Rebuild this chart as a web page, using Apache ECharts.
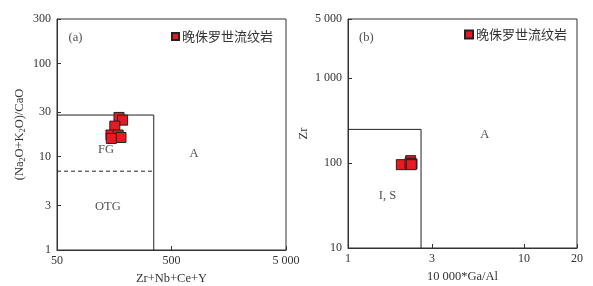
<!DOCTYPE html>
<html>
<head>
<meta charset="utf-8">
<script src="https://cdn.jsdelivr.net/npm/echarts@6/dist/echarts.min.js"></script>
<style>
html,body{margin:0;padding:0;background:#fff;}
#c{width:593px;height:286px;}
</style>
</head>
<body>
<div id="c"></div>
<script>
// ---- data ----
const seriesName = '晚侏罗世流纹岩';
// (a) Zr+Nb+Ce+Y vs (Na2O+K2O)/CaO
const aX = [174, 187, 160, 148, 171, 181, 149];
const aY = [26.4, 24.7, 21.3, 17.1, 17.1, 16.1, 15.7];
// (b) 10000*Ga/Al vs Zr
const bX = [2.27, 2.01, 2.25, 2.31, 2.29];
const bY = [107, 96, 100, 98, 96];
// tick labels
const aXTicks = [50, 500, 5000];
const aYTicks = [1, 3, 10, 30, 100, 300];
const bXTicks = [1, 3, 10, 20];
const bYTicks = [10, 100, 1000, 5000];
// field boundaries
const aBox = [[50, 28], [350, 28], [350, 1]];
const aDash = [[50, 7], [350, 7]];
const bBox = [[1, 250], [2.6, 250], [2.6, 10]];
// field labels [x, y, text]
const aLabels = [[72.5, 187, '(a)'], [134, 11.8, 'FG'], [786, 10.7, 'A'], [139, 2.91, 'OTG']];
const bLabels = [[1.27, 3020, '(b)'], [5.98, 216, 'A'], [1.675, 41.6, 'I, S']];

const serif = '"Liberation Serif", "Times New Roman", serif';
const cjk = '"Noto Sans CJK SC", sans-serif';
const lineC = '#333';
const red = '#e8191f';

function fmt(v) {
  return String(v).replace(/\B(?=(\d{3})+(?!\d))/g, ' ');
}
function logAxis(gridIndex, min, max, ticks, margin, extra) {
  return Object.assign({
    type: 'log', logBase: 10, gridIndex, min, max,
    axisLine: { show: true, lineStyle: { color: lineC, width: 1 } },
    axisTick: { show: true, inside: true, length: 4, customValues: ticks, lineStyle: { color: lineC } },
    axisLabel: { customValues: ticks, formatter: fmt, color: '#333', fontFamily: serif, fontSize: 12, margin },
    splitLine: { show: false },
    minorTick: { show: false },
    nameLocation: 'middle',
    nameTextStyle: { color: '#333', fontFamily: serif, fontSize: 12.5 }
  }, extra);
}
function pairs(xs, ys) { return xs.map((x, i) => [x, ys[i]]); }
function lineSeries(data, xi, dashed) {
  return { type: 'line', xAxisIndex: xi, yAxisIndex: xi, data, symbol: 'none', silent: true,
    lineStyle: { color: '#222', width: 1, type: dashed ? [4, 3] : 'solid' }, z: 2, animation: false };
}
function labelSeries(items, xi) {
  return { type: 'scatter', xAxisIndex: xi, yAxisIndex: xi, silent: true, symbolSize: 1,
    itemStyle: { color: 'rgba(0,0,0,0)' },
    data: items.map(d => ({ value: [d[0], d[1]], name: d[2] })),
    label: { show: true, position: 'inside', formatter: p => p.data.name, color: '#222',
      fontFamily: serif, fontSize: 12.5 }, z: 3, animation: false };
}
function ptSeries(data, xi) {
  return { name: seriesName, type: 'scatter', xAxisIndex: xi, yAxisIndex: xi, data,
    symbol: 'rect', symbolSize: 10,
    itemStyle: { color: red, borderColor: '#222', borderWidth: 1, opacity: 1 }, z: 5, animation: false };
}

const chart = echarts.init(document.getElementById('c'), null, { renderer: 'canvas' });
chart.setOption({
  animation: false,
  backgroundColor: '#fff',
  grid: [
    { left: 57, top: 19, width: 229, height: 231, show: true, borderColor: lineC, borderWidth: 1,
      containLabel: false, outerBoundsMode: 'none' },
    { left: 348, top: 19, width: 229, height: 229, show: true, borderColor: lineC, borderWidth: 1,
      containLabel: false, outerBoundsMode: 'none' }
  ],
  xAxis: [
    logAxis(0, 50, 5000, aXTicks, 5, { name: 'Zr+Nb+Ce+Y', nameGap: 20 }),
    logAxis(1, 1, 20, bXTicks, 5, { name: '10 000*Ga/Al', nameGap: 22 })
  ],
  yAxis: [
    logAxis(0, 1, 300, aYTicks, 6, {
      name: '({n|Na}{s|2}{n|O+K}{s|2}{n|O)/CaO}', nameGap: 30,
      nameTextStyle: { color: '#333', fontFamily: serif, fontSize: 12.5,
        rich: { n: { fontFamily: serif, fontSize: 12.5, color: '#333', lineHeight: 14 },
                s: { fontFamily: serif, fontSize: 8, color: '#333', lineHeight: 8, verticalAlign: 'bottom' } } }
    }),
    logAxis(1, 10, 5000, bYTicks, 6, { name: 'Zr', nameGap: 38 })
  ],
  legend: [
    { data: [seriesName], left: 171, top: 30, padding: 0, icon: 'rect', itemWidth: 7, itemHeight: 7,
      selectedMode: false, textStyle: { fontFamily: cjk, fontSize: 13, color: '#333', padding: [0, 0, 0, -2] } },
    { data: [seriesName], left: 464, top: 28, padding: 0, icon: 'rect', itemWidth: 8, itemHeight: 8,
      selectedMode: false, textStyle: { fontFamily: cjk, fontSize: 13, color: '#333', padding: [0, 0, 0, -2] } }
  ],
  series: [
    lineSeries(aBox, 0, false),
    lineSeries(aDash, 0, true),
    lineSeries(bBox, 1, false),
    labelSeries(aLabels, 0),
    labelSeries(bLabels, 1),
    ptSeries(pairs(aX, aY), 0),
    ptSeries(pairs(bX, bY), 1)
  ]
});
</script>
</body>
</html>
